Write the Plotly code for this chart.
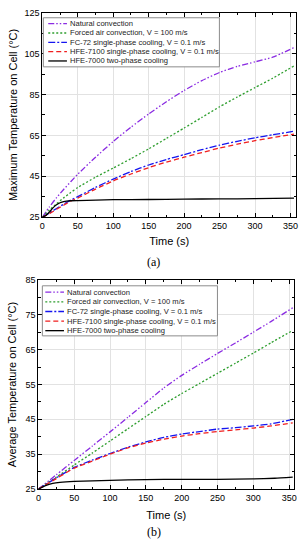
import plotly.graph_objects as go

# ---------------- data ----------------
series_names = [
    "Natural convection",
    "Forced air convection, V = 100 m/s",
    "FC-72 single-phase cooling, V = 0.1 m/s",
    "HFE-7100 single-phase cooling, V = 0.1 m/s",
    "HFE-7000 two-phase cooling",
]

# (a) Maximum temperature
t_max = [0, 10, 20, 30, 40, 50, 75, 100, 125, 150, 175, 200, 225, 250, 275, 300, 325, 355]
max_natural = [25, 30, 34.5, 38.5, 42.3, 46, 54.3, 62, 69, 75.5, 81.5, 87, 91.8, 95.8, 98.8, 101, 103.3, 108]
max_forced = [25, 28.5, 31.5, 34.4, 37, 39.5, 44.5, 49, 53.6, 58.4, 63.5, 68.6, 73.8, 79, 83.8, 88.4, 93, 99]
max_fc72 = [25, 27, 29.2, 31.3, 33.3, 35, 39.5, 43.6, 47.3, 50.5, 53.2, 55.6, 58, 60.2, 62.1, 63.8, 65.3, 67]
max_hfe7100 = [25, 26.7, 28.8, 30.8, 32.8, 34.3, 38.7, 42.7, 46.1, 49.2, 51.9, 54.3, 56.6, 58.8, 60.7, 62.4, 63.9, 65.6]

t_two = [0, 5, 10, 15, 20, 25, 30, 40, 50, 100, 150, 200, 250, 300, 355]
max_hfe7000 = [25, 25.8, 27.5, 29.5, 31, 32, 32.6, 33, 33.1, 33.5, 33.6, 33.8, 33.9, 34, 34.3]

# (b) Average temperature
t_avg = [0, 25, 50, 75, 100, 125, 150, 175, 200, 225, 250, 275, 300, 325, 355]
avg_natural = [25, 29.1, 33.2, 37.3, 41.4, 45.6, 49.8, 54, 57.6, 60.8, 63.9, 66.9, 70, 73.1, 77]
avg_forced = [25, 28.4, 31.9, 35.3, 38.8, 42.3, 45.8, 49.3, 52.4, 55.3, 58.2, 61.1, 64, 67, 70.5]
avg_fc72 = [25, 28.2, 31.2, 33.3, 35.2, 37, 38.5, 39.8, 40.8, 41.5, 42.2, 42.6, 43.1, 43.7, 45]
avg_hfe7100 = [25, 28, 31, 33, 35, 36.8, 38.2, 39.3, 40.2, 40.9, 41.5, 42, 42.5, 43.1, 44]

t_two_avg = [0, 10, 20, 30, 50, 100, 150, 200, 250, 300, 330, 355]
avg_hfe7000 = [25, 26, 26.6, 26.9, 27.2, 27.5, 27.7, 27.8, 27.8, 27.9, 28.1, 28.4]

x_ticks = [0, 50, 100, 150, 200, 250, 300, 350]
y_ticks_max = [25, 45, 65, 85, 105, 125]
y_ticks_avg = [25, 35, 45, 55, 65, 75, 85]

colors = ["#8A2BE2", "#2E9E2E", "#1515F0", "#F01E1E", "#000000"]
dashes = ["6px,2px,1.5px,2px,1.5px,2px", "2px,2px", "7px,2px,2px,2px", "5px,3px", "solid"]

W, H = 306, 550
FONT = "Liberation Sans, Arial, sans-serif"

fig = go.Figure()

top_sets = [(t_max, max_natural), (t_max, max_forced), (t_max, max_fc72),
            (t_max, max_hfe7100), (t_two, max_hfe7000)]
bot_sets = [(t_avg, avg_natural), (t_avg, avg_forced), (t_avg, avg_fc72),
            (t_avg, avg_hfe7100), (t_two_avg, avg_hfe7000)]

for i, (xs, ys) in enumerate(top_sets):
    fig.add_trace(go.Scatter(x=xs, y=ys, mode="lines", name=series_names[i], showlegend=False,
                             line=dict(color=colors[i], width=1.3, dash=dashes[i], shape="spline", smoothing=0.5),
                             xaxis="x", yaxis="y"))
for i, (xs, ys) in enumerate(bot_sets):
    fig.add_trace(go.Scatter(x=xs, y=ys, mode="lines", name=series_names[i], showlegend=False,
                             line=dict(color=colors[i], width=1.3, dash=dashes[i], shape="spline", smoothing=0.5),
                             xaxis="x2", yaxis="y2"))


def px_x(p):
    return p / W


def px_y(p):
    return 1 - p / H


axis_common = dict(
    showline=True, linecolor="black", linewidth=1, mirror="allticks",
    ticks="inside", ticklen=4, tickwidth=1, tickcolor="black",
    showgrid=True, gridcolor="#E2E2E2", gridwidth=0.8,
    zeroline=False, tickfont=dict(family=FONT, size=9, color="black"),
    minor=dict(ticks="inside", ticklen=2.5, tickcolor="black", showgrid=False),
)

# ---- manual compact legends (plotly's legend rows cannot be this tight) ----
shapes = []
annotations = []


def add_legend(box, line_x0, line_x1, text_x, ys):
    x0, y0, x1, y1 = box
    shapes.append(dict(type="rect", xref="paper", yref="paper",
                       x0=px_x(x0), x1=px_x(x1), y0=px_y(y1), y1=px_y(y0),
                       line=dict(color="#8C8C8C", width=1), fillcolor="white", layer="above"))
    for i, yy in enumerate(ys):
        shapes.append(dict(type="line", xref="paper", yref="paper",
                           x0=px_x(line_x0), x1=px_x(line_x1), y0=px_y(yy), y1=px_y(yy),
                           line=dict(color=colors[i], width=1.3, dash=dashes[i]), layer="above"))
        annotations.append(dict(text=series_names[i], xref="paper", yref="paper",
                                x=px_x(text_x), y=px_y(yy), xanchor="left", yanchor="middle",
                                showarrow=False, font=dict(family=FONT, size=7.6, color="#222222")))


add_legend((41, 13, 220, 63), 46, 65, 66, [19, 28.5, 38, 47.5, 57])
add_legend((40, 286, 218, 337), 43, 62, 63, [292.5, 302.3, 312.2, 322, 331.7])

annotations += [
    dict(text="(a)", x=0.5, y=px_y(262), xref="paper", yref="paper", showarrow=False,
         xanchor="center", yanchor="middle",
         font=dict(family="Liberation Serif, Times New Roman, serif", size=12)),
    dict(text="(b)", x=0.5, y=px_y(537), xref="paper", yref="paper", showarrow=False,
         xanchor="center", yanchor="middle",
         font=dict(family="Liberation Serif, Times New Roman, serif", size=12)),
]

fig.update_layout(
    width=W, height=H,
    margin=dict(l=0, r=0, t=0, b=0),
    paper_bgcolor="white", plot_bgcolor="white",
    font=dict(family=FONT, color="black"),
    showlegend=False,
    xaxis=dict(axis_common, domain=[px_x(40), px_x(298)], range=[0, 358], anchor="y",
               tickvals=x_ticks, minor=dict(axis_common["minor"], dtick=25, tick0=0),
               title=dict(text="Time (s)", font=dict(size=11), standoff=7)),
    yaxis=dict(axis_common, domain=[px_y(216), px_y(8)], range=[25, 125], anchor="x",
               tickvals=y_ticks_max, minor=dict(axis_common["minor"], dtick=10, tick0=25),
               title=dict(text="Maximum Temperature on Cell (°C)", font=dict(size=11), standoff=4)),
    xaxis2=dict(axis_common, domain=[px_x(36), px_x(296)], range=[0, 357], anchor="y2",
                tickvals=x_ticks, minor=dict(axis_common["minor"], dtick=25, tick0=0),
                title=dict(text="Time (s)", font=dict(size=11), standoff=9)),
    yaxis2=dict(axis_common, domain=[px_y(493), px_y(280)], range=[25, 85], anchor="x2",
                tickvals=y_ticks_avg, minor=dict(axis_common["minor"], dtick=5, tick0=25),
                title=dict(text="Average Temperature on Cell (°C)", font=dict(size=11), standoff=6)),
    shapes=shapes,
    annotations=annotations,
)

fig.write_html("out.html", config={"displayModeBar": False},
               post_script="document.body.style.margin='0';")
